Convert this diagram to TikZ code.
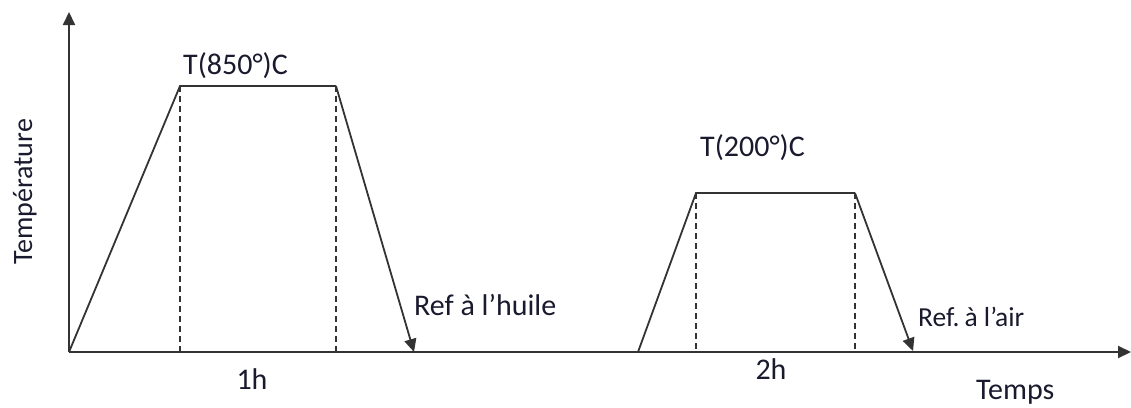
\documentclass[tikz,border=0pt]{standalone}
\usepackage{fontspec}
\setmainfont{Carlito}
\usetikzlibrary{arrows.meta}
\definecolor{linecol}{HTML}{333333}
\definecolor{txtcol}{HTML}{1A1A2E}
\begin{document}
\begin{tikzpicture}[x=1pt,y=-1pt,
  axis/.style={draw=linecol,line width=2pt,-{Triangle[length=13pt,width=12pt]}},
  curve/.style={draw=linecol,line width=1.8pt},
  curvearrow/.style={draw=linecol,line width=1.8pt,-{Triangle[length=13pt,width=12pt]}},
  guide/.style={draw=linecol,line width=1.4pt,dash pattern=on 6pt off 4pt},
  lab/.style={text=txtcol,inner sep=0pt,font=\fontsize{30}{34}\selectfont},
  smalllab/.style={text=txtcol,inner sep=0pt,font=\fontsize{27.5}{32}\selectfont}]
\useasboundingbox (0,0) rectangle (1131,407);
% key points
\coordinate (O) at (69,352);
\coordinate (ytip) at (69,12);
\coordinate (xtip) at (1131,352);
\coordinate (a1) at (180,86);
\coordinate (a2) at (336,86);
\coordinate (a3) at (414,352);
\coordinate (a1b) at (180,352);
\coordinate (a2b) at (336,352);
\coordinate (b0) at (638,352);
\coordinate (b1) at (696,193);
\coordinate (b2) at (855,193);
\coordinate (b3) at (913,351);
\coordinate (b1b) at (696,352);
\coordinate (b2b) at (855,352);
% axes
\draw[axis] (O) -- (ytip);
\draw[axis] (O) -- (xtip);
% first cycle
\draw[guide] (a1) -- (a1b);
\draw[guide] (a2) -- (a2b);
\draw[curve] (O) -- (a1) -- (a2);
\draw[curvearrow] (a2) -- (a3);
% second cycle
\draw[guide] (b1) -- (b1b);
\draw[guide] (b2) -- (b2b);
\draw[curve] (b0) -- (b1) -- (b2);
\draw[curvearrow] (b2) -- (b3);
% labels
\node[lab,anchor=base west] (t850) at (183,74) {T(850°)C};
\node[lab,anchor=base west] (t200) at (700,156) {T(200°)C};
\node[lab,anchor=base west] (huile) at (414,315) {Ref à l’huile};
\node[smalllab,anchor=base west] (air) at (918,326) {Ref.\hspace{-0.12em} à l’air};
\node[lab,anchor=base] (h1) at (252,389) {1h};
\node[lab,anchor=base] (h2) at (771,379) {2h};
\node[lab,anchor=base west] (temps) at (976,399) {Temps};
\node[lab,anchor=base,rotate=90,font=\fontsize{28}{32}\selectfont] (temp) at (32,192) {Température};
\end{tikzpicture}
\end{document}
